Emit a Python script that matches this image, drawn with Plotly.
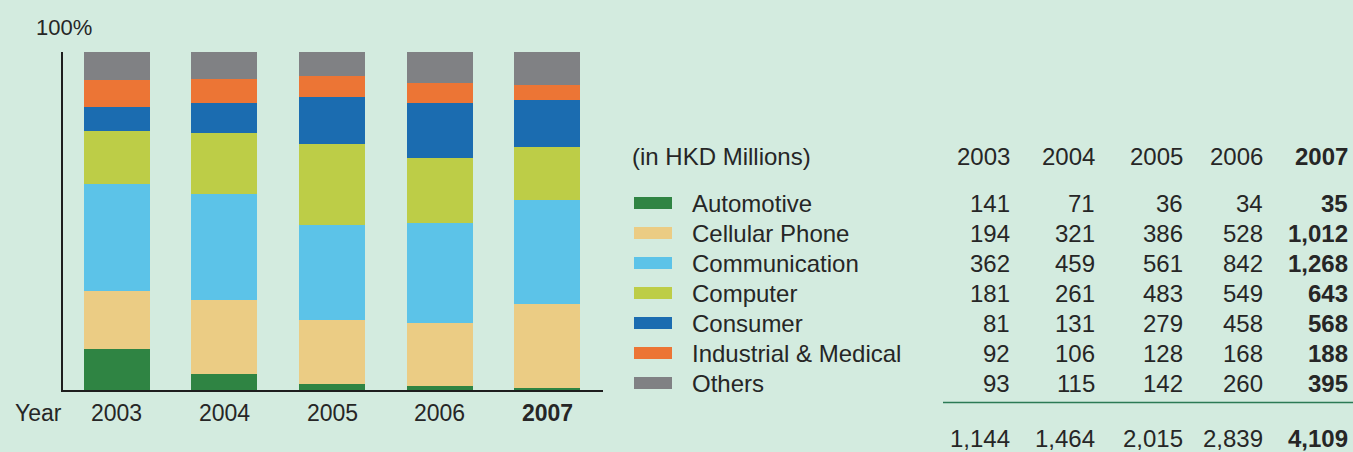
import plotly.graph_objects as go

years = ["2003", "2004", "2005", "2006", "2007"]
categories = ["Automotive", "Cellular Phone", "Communication", "Computer",
              "Consumer", "Industrial & Medical", "Others"]
automotive = [141, 71, 36, 34, 35]
cellular_phone = [194, 321, 386, 528, 1012]
communication = [362, 459, 561, 842, 1268]
computer = [181, 261, 483, 549, 643]
consumer = [81, 131, 279, 458, 568]
industrial_medical = [92, 106, 128, 168, 188]
others = [93, 115, 142, 260, 395]
series = [automotive, cellular_phone, communication, computer,
          consumer, industrial_medical, others]
colors = ["#2f8443", "#ebcc84", "#5cc3e8", "#bdcd47", "#1b6cb0", "#ec7535", "#808184"]

totals = [sum(s[i] for s in series) for i in range(len(years))]

W, H = 1353, 452
BG = "#d3ebdf"
TXT = "#262626"
FONT = "Liberation Sans, Arial, sans-serif"

def px(x):
    return x / W

def py(y):
    return 1 - y / H

fig = go.Figure()
xs = list(range(len(years)))
for name, vals, col in zip(categories, series, colors):
    pct = [v / t * 100 for v, t in zip(vals, totals)]
    fig.add_trace(go.Bar(x=xs, y=pct, name=name, marker=dict(color=col, line=dict(width=0)),
                         width=0.613, showlegend=False, hoverinfo="skip"))

fig.update_layout(
    width=W, height=H, margin=dict(l=0, r=0, t=0, b=0),
    paper_bgcolor=BG, plot_bgcolor=BG, barmode="stack", bargap=0,
    font=dict(family=FONT, color=TXT, size=23),
    xaxis=dict(domain=[px(63), px(603)], range=[-0.5, 4.517], showgrid=False, zeroline=False,
               showticklabels=False, showline=True, linecolor="#1e1e1e", linewidth=1.5,
               fixedrange=True),
    yaxis=dict(domain=[py(390), py(51.5)], range=[0, 100], showgrid=False, zeroline=False,
               showticklabels=False, showline=True, linecolor="#1e1e1e", linewidth=1.5,
               fixedrange=True),
)

ann = []
# axis labels
ann.append(dict(x=px(34), y=py(28), xref="paper", yref="paper", text="100%",
                showarrow=False, xanchor="left", yanchor="middle", font=dict(size=22)))
ann.append(dict(x=px(13), y=py(413), xref="paper", yref="paper", text="Year",
                showarrow=False, xanchor="left", yanchor="middle", font=dict(size=23)))
for i, yr in enumerate(years):
    t = f"<b>{yr}</b>" if i == len(years) - 1 else yr
    ann.append(dict(x=i, y=py(413), xref="x", yref="paper", text=t, showarrow=False,
                    xanchor="center", yanchor="middle", font=dict(size=23)))

# table
TF = 24
col_right = [1012, 1097, 1185, 1265, 1350]
ann.append(dict(x=px(630), y=py(157), xref="paper", yref="paper", text="(in HKD Millions)",
                showarrow=False, xanchor="left", yanchor="middle", font=dict(size=TF)))
for j, yr in enumerate(years):
    t = f"<b>{yr}</b>" if j == len(years) - 1 else yr
    ann.append(dict(x=px(col_right[j]), y=py(157), xref="paper", yref="paper", text=t,
                    showarrow=False, xanchor="right", yanchor="middle", font=dict(size=TF)))

row_y = [203, 233, 263, 293, 323, 353, 383]
shapes = []
for r, (name, vals, col) in enumerate(zip(categories, series, colors)):
    yc = row_y[r]
    shapes.append(dict(type="rect", xref="paper", yref="paper", x0=px(634), x1=px(672),
                       y0=py(yc + 6), y1=py(yc - 6), fillcolor=col, line=dict(width=0)))
    ann.append(dict(x=px(690), y=py(yc), xref="paper", yref="paper", text=name,
                    showarrow=False, xanchor="left", yanchor="middle", font=dict(size=TF)))
    for j, v in enumerate(vals):
        t = f"{v:,}"
        if j == len(years) - 1:
            t = f"<b>{t}</b>"
        ann.append(dict(x=px(col_right[j]), y=py(yc), xref="paper", yref="paper", text=t,
                        showarrow=False, xanchor="right", yanchor="middle", font=dict(size=TF)))

shapes.append(dict(type="line", xref="paper", yref="paper", x0=px(943), x1=px(1353),
                   y0=py(402.5), y1=py(402.5), line=dict(color="#2b7a55", width=1.5)))
for j, t in enumerate(totals):
    s = f"{t:,}"
    if j == len(years) - 1:
        s = f"<b>{s}</b>"
    ann.append(dict(x=px(col_right[j]), y=py(438), xref="paper", yref="paper", text=s,
                    showarrow=False, xanchor="right", yanchor="middle", font=dict(size=TF)))

fig.update_layout(annotations=ann, shapes=shapes)
fig.write_html("out.html", config={"displayModeBar": False},
               post_script="document.body.style.margin='0';document.body.style.overflow='hidden';")
